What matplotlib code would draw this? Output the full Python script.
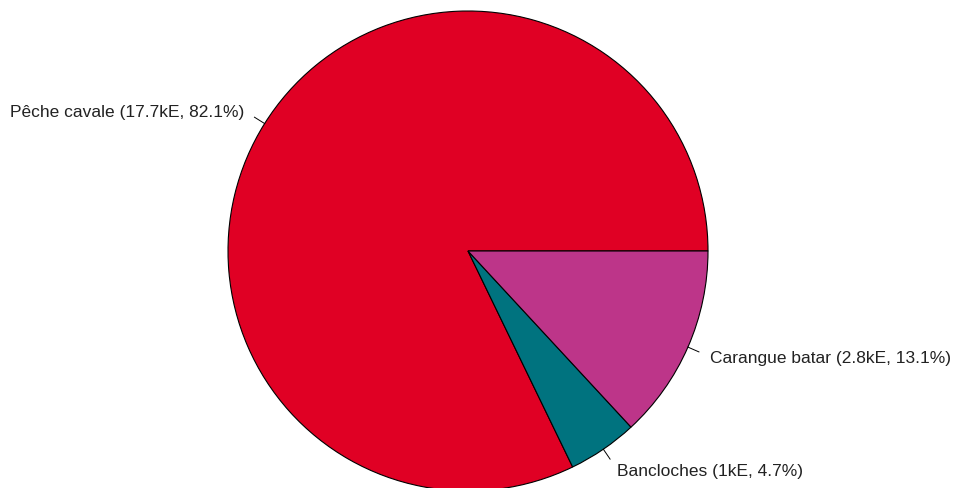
import numpy as np
import matplotlib.pyplot as plt

# Data
species = ['Pêche cavale', 'Bancloches', 'Carangue batar']
amounts = ['17.7kE', '1kE', '2.8kE']
shares = [82.1, 4.7, 13.1]
colors = ['#E00024', '#00737F', '#BD3589']

W, H = 954, 489
fig = plt.figure(figsize=(W / 100, H / 100), dpi=100)
ax = fig.add_axes([0, 0, 1, 1])

cx, cy, r = 468, H - 252, 240

wedges, _ = ax.pie(shares, colors=colors, startangle=0, counterclock=True,
                   center=(cx, cy), radius=r, frame=True,
                   wedgeprops=dict(edgecolor='black', linewidth=0.8))
ax.set_xlim(0, W)
ax.set_ylim(0, H)
ax.set_aspect('equal')
ax.axis('off')

# R-style labels: tick from r to 1.05r, text at 1.1r
for w, name, amt, pct in zip(wedges, species, amounts, shares):
    mid = np.deg2rad((w.theta1 + w.theta2) / 2)
    c, s = np.cos(mid), np.sin(mid)
    ax.plot([cx + r * c, cx + 1.05 * r * c], [cy + r * s, cy + 1.05 * r * s],
            color='black', linewidth=0.7)
    ax.text(cx + 1.1 * r * c, cy + 1.1 * r * s - 1, f'{name} ({amt}, {pct}%)',
            ha='left' if c > 0 else 'right', va='center',
            fontsize=12.5, family='Liberation Sans', color='#222222')

fig.savefig('out.png', dpi=100)
